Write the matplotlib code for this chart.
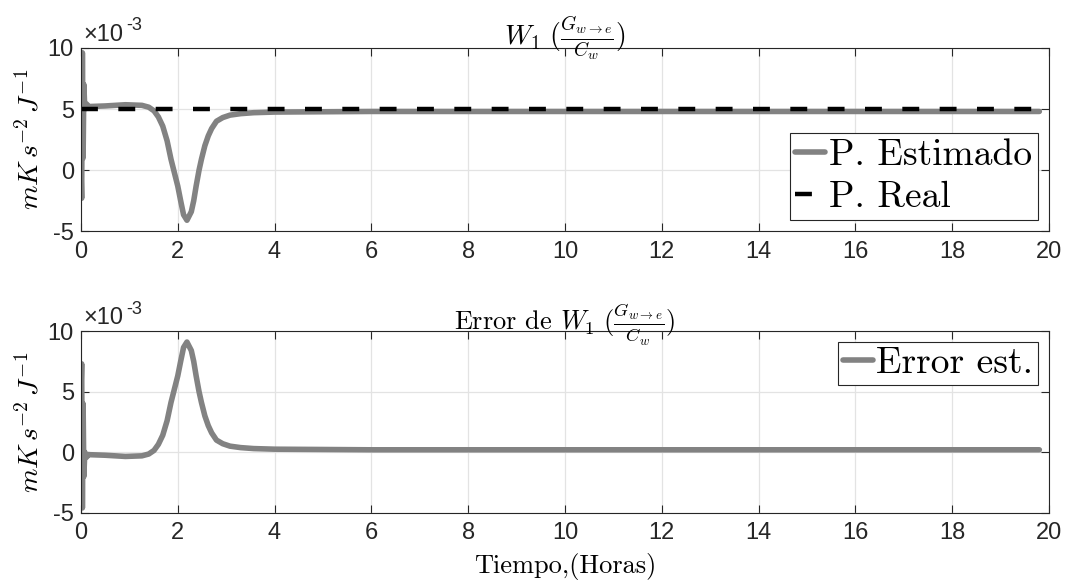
import numpy as np
import matplotlib
matplotlib.use("Agg")
import matplotlib.pyplot as plt

plt.rcParams['mathtext.fontset'] = 'cm'
plt.rcParams['font.family'] = ['Liberation Sans', 'DejaVu Sans']

# time (hours) and estimated parameter (x1e-3)
t = [0.0, 0.015, 0.03, 0.045, 0.06, 0.08, 0.12, 0.15, 0.5, 0.92, 1.26, 1.4,
     1.51, 1.6, 1.69, 1.78, 1.86, 1.93, 2.0, 2.06, 2.12, 2.19, 2.28, 2.33,
     2.38, 2.44, 2.49, 2.56, 2.63, 2.7, 2.8, 2.93, 3.08, 3.3, 3.57, 4.0,
     6.0, 10.0, 15.0, 19.8]
est = [0.0, -2.3, 9.6, 1.0, 7.0, 5.0, 5.4, 5.2, 5.25, 5.35, 5.3, 5.15,
       4.85, 4.35, 3.6, 2.4, 0.9, -0.2, -1.3, -2.5, -3.65, -4.1, -3.4, -2.5,
       -1.3, 0.0, 0.9, 2.0, 2.8, 3.4, 4.0, 4.3, 4.5, 4.62, 4.7, 4.75,
       4.8, 4.8, 4.8, 4.8]
real_val = 5.0

t = np.array(t)
est = np.array(est)
err = real_val - est

fig = plt.figure(figsize=(10.65, 5.84), dpi=100)
ax1 = fig.add_axes([0.076, 0.604, 0.909, 0.314])
ax2 = fig.add_axes([0.076, 0.122, 0.909, 0.311])

gray = '#828282'
serif = 'cmr10'
for ax in (ax1, ax2):
    ax.set_xlim(0, 20)
    ax.set_ylim(-5, 10)
    ax.set_xticks(range(0, 21, 2))
    ax.set_xticklabels([str(v) for v in range(0, 21, 2)], fontsize=17)
    ax.set_yticks([-5, 0, 5, 10])
    ax.set_yticklabels(['-5', '0', '5', '10'], fontsize=17)
    ax.tick_params(direction='in', top=True, right=True, length=6,
                   width=0.8, color='#262626', labelcolor='#262626')
    ax.tick_params(axis='x', pad=7)
    ax.tick_params(axis='y', pad=5)
    ax.grid(True, color='#e3e3e3', linewidth=0.9)
    ax.set_axisbelow(True)
    for s in ax.spines.values():
        s.set_color('#262626')
        s.set_linewidth(0.8)
    ax.set_ylabel(r'$mK\,s^{-2}\,J^{-1}$', fontsize=20, labelpad=2)
    ax.text(0.002, 1.01, '\u00d710', transform=ax.transAxes, fontsize=17,
            ha='left', va='bottom', color='#262626')
    ax.text(0.047, 1.075, '-3', transform=ax.transAxes, fontsize=13,
            ha='left', va='bottom', color='#262626')

ax1.plot(t, est, color=gray, lw=4, label='P. Estimado', solid_capstyle='round')
ax1.plot([t[0], t[-1]], [real_val, real_val], color='black', lw=3.2,
         dashes=(3.8, 4.6), label='P. Real')
ax1.set_title(r'$W_1\ (\frac{G_{w \to e}}{C_w})$', fontsize=20, pad=2)
leg1 = ax1.legend(loc='lower right', handlelength=0.8,
                  handletextpad=0.1, borderpad=0.15, labelspacing=0.25,
                  fancybox=False, framealpha=1, edgecolor='#262626',
                  borderaxespad=0.3, prop={'family': serif, 'size': 27})
leg1.get_frame().set_linewidth(0.8)

ax2.plot(t, err, color=gray, lw=4, label='Error est.', solid_capstyle='round')
ax2.set_title(r'Error de $W_1\ (\frac{G_{w \to e}}{C_w})$',
              fontsize=19, pad=0, family=serif)
leg2 = ax2.legend(loc='upper right', handlelength=0.8,
                  handletextpad=0.1, borderpad=0.12,
                  fancybox=False, framealpha=1, edgecolor='#262626',
                  borderaxespad=0.3, prop={'family': serif, 'size': 27})
leg2.get_frame().set_linewidth(0.8)
ax2.set_xlabel('Tiempo,(Horas)', fontsize=19, labelpad=6, family=serif)

fig.savefig('out.png', dpi=100, facecolor='white')
